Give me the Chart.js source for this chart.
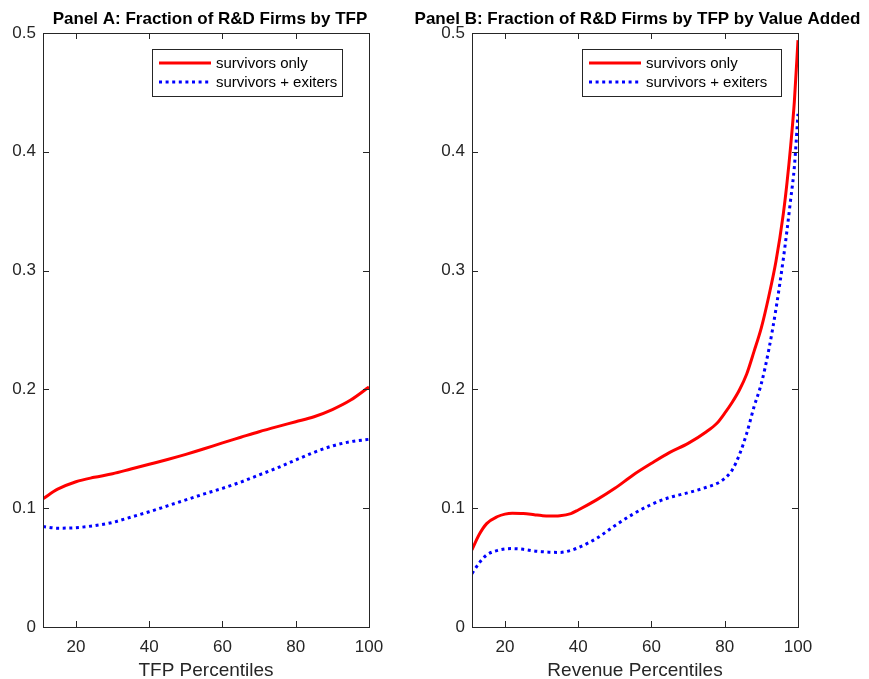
<!DOCTYPE html>
<html>
<head>
<meta charset="utf-8">
<script src="https://cdn.jsdelivr.net/npm/chart.js@4.4.1/dist/chart.umd.min.js"></script>
<style>
  html, body { margin: 0; padding: 0; background: #fff; }
  .panel { position: absolute; top: 0; height: 679px; }
  #panel-a { left: 0; width: 400px; }
  #panel-b { left: 400px; width: 469px; }
</style>
</head>
<body>
<div class="panel" id="panel-a"><canvas id="chart-a"></canvas></div>
<div class="panel" id="panel-b"><canvas id="chart-b"></canvas></div>
<script>
// ===== DADOS =====
const xTicks = [20, 40, 60, 80, 100];
const yTicks = [0, 0.1, 0.2, 0.3, 0.4, 0.5];
const seriesLabels = ['survivors only', 'survivors + exiters'];

// Panel A: por percentil de TFP
const tfpPct        = [11, 15, 20, 25, 30, 35, 40, 45, 50, 55, 60, 65, 70, 75, 80, 85, 90, 95, 100];
const tfpSurvivors  = [0.108, 0.116, 0.1223, 0.126, 0.129, 0.133, 0.137, 0.141, 0.1453, 0.150, 0.155, 0.1597, 0.1644, 0.1687, 0.1728, 0.177, 0.183, 0.191, 0.202];
const tfpWithExit   = [0.0845, 0.0832, 0.0836, 0.0853, 0.088, 0.0925, 0.097, 0.102, 0.107, 0.112, 0.1167, 0.122, 0.128, 0.134, 0.1406, 0.147, 0.1524, 0.156, 0.158];

// Panel B: por percentil de receita
const revPct        = [11, 13, 15, 18, 20, 22, 25, 28, 30, 32, 35, 38, 40, 45, 50, 55, 60, 65, 70, 75, 78, 80, 82, 84, 86, 88, 90, 92, 94, 96, 97, 98, 99, 100];
const revSurvivors  = [0.065, 0.078, 0.087, 0.093, 0.095, 0.0957, 0.0955, 0.0945, 0.0938, 0.0934, 0.0937, 0.0955, 0.0985, 0.107, 0.1167, 0.128, 0.1378, 0.147, 0.1546, 0.1644, 0.172, 0.18, 0.189, 0.1995, 0.213, 0.232, 0.252, 0.278, 0.308, 0.348, 0.374, 0.405, 0.442, 0.494];
const revWithExit   = [0.045, 0.054, 0.0606, 0.0645, 0.0657, 0.066, 0.0654, 0.064, 0.0634, 0.063, 0.0628, 0.0645, 0.0668, 0.0746, 0.0853, 0.0951, 0.1032, 0.1091, 0.113, 0.1176, 0.121, 0.1251, 0.132, 0.145, 0.163, 0.1854, 0.205, 0.233, 0.268, 0.31, 0.334, 0.36, 0.387, 0.432];

// ===== ESTILO =====
const AXIS_COLOR = '#262626';
const FONT = '"Liberation Sans", Arial, Helvetica, sans-serif';
Chart.defaults.font.family = FONT;
Chart.defaults.color = AXIS_COLOR;

// título do painel (o title nativo fica preso ao padding do layout)
const panelTitle = {
    id: 'panelTitle',
    afterDraw(chart, args, opts) {
        const { ctx } = chart;
        ctx.save();
        ctx.font = 'bold 17px ' + FONT;
        ctx.fillStyle = '#000';
        ctx.textAlign = 'center';
        ctx.textBaseline = 'middle';
        ctx.fillText(opts.text, opts.centerX, opts.y);
        ctx.restore();
    }
};

// caixa estilo MATLAB: borda completa + ticks para dentro nos 4 lados
const matlabAxes = {
    id: 'matlabAxes',
    afterDatasetsDraw(chart, args, opts) {
        const { ctx, chartArea: a, scales: { x, y } } = chart;
        const len = opts.tickLen || 6;
        ctx.save();
        ctx.strokeStyle = AXIS_COLOR;
        ctx.lineWidth = 1;
        ctx.beginPath();
        x.ticks.forEach(t => {
            const px = Math.round(x.getPixelForValue(t.value)) + 0.5;
            ctx.moveTo(px, a.bottom); ctx.lineTo(px, a.bottom - len);
            ctx.moveTo(px, a.top);    ctx.lineTo(px, a.top + len);
        });
        y.ticks.forEach(t => {
            const py = Math.round(y.getPixelForValue(t.value)) + 0.5;
            ctx.moveTo(a.left, py);  ctx.lineTo(a.left + len, py);
            ctx.moveTo(a.right, py); ctx.lineTo(a.right - len, py);
        });
        ctx.stroke();
        ctx.strokeRect(Math.round(a.left) + 0.5, Math.round(a.top) + 0.5,
                       Math.round(a.width), Math.round(a.height));
        ctx.restore();
    }
};

// legenda em caixa dentro da área do gráfico
const boxLegend = {
    id: 'boxLegend',
    afterDraw(chart, args, opts) {
        const { ctx } = chart;
        const { left, top, width, height, rows } = opts;
        ctx.save();
        ctx.fillStyle = '#fff';
        ctx.fillRect(left, top, width, height);
        ctx.strokeStyle = AXIS_COLOR;
        ctx.lineWidth = 1;
        ctx.strokeRect(left + 0.5, top + 0.5, width, height);
        ctx.font = '15px ' + FONT;
        ctx.textBaseline = 'middle';
        chart.data.datasets.forEach((ds, i) => {
            const yy = top + rows[i];
            ctx.strokeStyle = ds.borderColor;
            ctx.lineWidth = ds.borderWidth;
            ctx.lineCap = 'butt';
            ctx.setLineDash(ds.borderDash || []);
            ctx.beginPath();
            ctx.moveTo(left + 7, yy);
            ctx.lineTo(left + 59, yy);
            ctx.stroke();
            ctx.setLineDash([]);
            ctx.fillStyle = '#000';
            ctx.fillText(ds.label, left + 64, yy + 1);
        });
        ctx.restore();
    }
};

function toPoints(xs, ys) {
    return xs.map((v, i) => ({ x: v, y: ys[i] }));
}

function renderPanel(canvasId, title, xTitle, xs, solid, dotted, cfg) {
    const canvas = document.getElementById(canvasId);
    return new Chart(canvas, {
        type: 'line',
        data: {
            datasets: [
                {
                    label: seriesLabels[0],
                    data: toPoints(xs, solid),
                    borderColor: '#ff0000',
                    borderWidth: 3,
                    pointRadius: 0,
                    cubicInterpolationMode: 'monotone',
                },
                {
                    label: seriesLabels[1],
                    data: toPoints(xs, dotted),
                    borderColor: '#0000ff',
                    borderWidth: 3,
                    borderDash: [3, 3.6],
                    borderCapStyle: 'butt',
                    pointRadius: 0,
                    cubicInterpolationMode: 'monotone',
                }
            ]
        },
        options: {
            responsive: true,
            maintainAspectRatio: false,
            animation: false,
            layout: { padding: { top: 33, right: cfg.padRight, bottom: 0, left: 0 } },
            plugins: {
                legend: { display: false },
                tooltip: { enabled: false },
                title: { display: false },
                panelTitle: { text: title, centerX: cfg.titleX, y: 19 },
                matlabAxes: { tickLen: 6 },
                boxLegend: cfg.legend
            },
            scales: {
                x: {
                    type: 'linear',
                    min: 11,
                    max: 100,
                    afterBuildTicks: s => { s.ticks = xTicks.map(v => ({ value: v })); },
                    afterFit: s => { s.height = 52; },
                    ticks: { color: AXIS_COLOR, font: { size: 17 }, padding: 10, maxRotation: 0, callback: v => String(v) },
                    grid: { display: false, drawTicks: false },
                    border: { display: false },
                    title: { display: true, text: xTitle, color: AXIS_COLOR, font: { size: 19 }, padding: { top: 0, bottom: -3 } }
                },
                y: {
                    min: 0,
                    max: 0.5,
                    afterBuildTicks: s => { s.ticks = yTicks.map(v => ({ value: v })); },
                    afterFit: s => { s.width = cfg.yWidth; },
                    ticks: { color: AXIS_COLOR, font: { size: 17 }, padding: 7, callback: v => String(v) },
                    grid: { display: false, drawTicks: false },
                    border: { display: false }
                }
            }
        },
        plugins: [matlabAxes, boxLegend, panelTitle]
    });
}

renderPanel('chart-a', 'Panel A: Fraction of R&D Firms by TFP', 'TFP Percentiles',
    tfpPct, tfpSurvivors, tfpWithExit,
    { padRight: 31, yWidth: 43, titleX: 210,
      legend: { left: 152, top: 49, width: 190, height: 47, rows: [14, 33] } });

renderPanel('chart-b', 'Panel B: Fraction of R&D Firms by TFP by Value Added', 'Revenue Percentiles',
    revPct, revSurvivors, revWithExit,
    { padRight: 71, yWidth: 72, titleX: 237.5,
      legend: { left: 182, top: 49, width: 199, height: 47, rows: [14, 33] } });
</script>
</body>
</html>
